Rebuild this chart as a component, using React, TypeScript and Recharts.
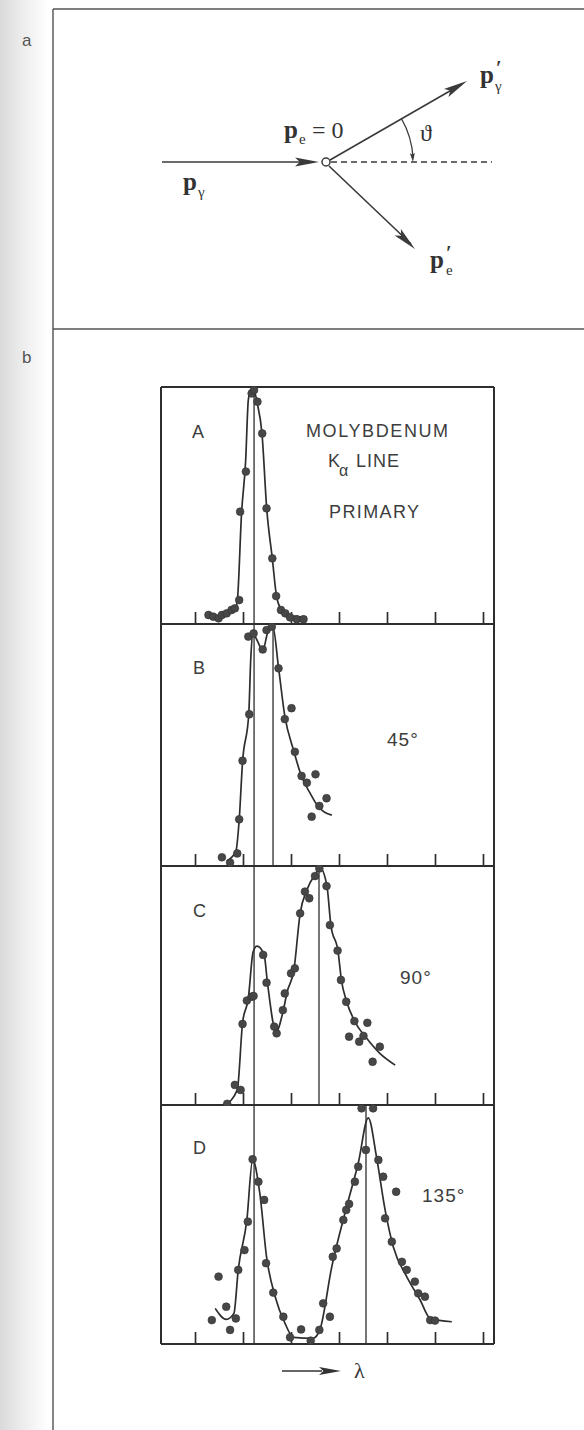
import React from "react";
import { ComposedChart, Line, Scatter, XAxis, YAxis, ReferenceLine } from "recharts";

type Pt = [number, number];

// wavelength axis, arbitrary units (one per tick)
const lambdaTicks = [1, 2, 3, 4, 5, 6, 7];
const lambdaDomain: [number, number] = [0.281, 7.219];
const primaryLambda = 2.22;

// A – primary Mo K-alpha line
const pointsA: Pt[] = [
  [1.27, 3.8], [1.37, 3.1], [1.48, 2.4], [1.55, 3.8], [1.65, 4.5], [1.75, 5.9], [1.82, 6.6],
  [1.91, 10.1], [1.93, 47.4], [2.05, 64.3], [2.17, 97.3], [2.22, 98.7], [2.29, 93.8],
  [2.39, 80.4], [2.48, 48.8], [2.6, 27.7], [2.68, 11.8], [2.78, 5.9], [2.87, 4.5],
  [2.97, 2.8], [3.11, 2.0], [3.25, 2.0],
];
const curveA: Pt[] = [
  [1.82, 5.6], [1.87, 9.4], [1.96, 47], [2.045, 69], [2.1, 94.5], [2.156, 99], [2.219, 98.5],
  [2.288, 93], [2.385, 80.4], [2.483, 48.8], [2.6, 27.7], [2.69, 11.5], [2.795, 5.9],
  [2.97, 3.7], [3.32, 2.8],
];

// B – scattered at 45°
const pointsB: Pt[] = [
  [1.55, 3.6], [1.72, 1.4], [1.87, 5.2], [1.91, 19.3], [1.98, 43.5], [2.12, 62.7], [2.1, 94.8],
  [2.21, 96.1], [2.4, 89.5], [2.48, 97.5], [2.59, 98.9], [2.73, 81.7], [2.86, 60.7], [3.0, 65.2],
  [3.07, 47.2], [3.21, 37.2], [3.32, 34.4], [3.5, 37.9], [3.58, 24.8], [3.42, 20.4], [3.73, 28.0],
];
const curveB: Pt[] = [
  [1.65, 2], [1.84, 6], [1.91, 19], [1.98, 43], [2.11, 63], [2.15, 85], [2.19, 96], [2.29, 93],
  [2.4, 89], [2.51, 97], [2.61, 99], [2.73, 82], [2.86, 62], [3.04, 48], [3.21, 37],
  [3.39, 30], [3.54, 25], [3.84, 21],
];
const shiftB = 2.615;

// C – scattered at 90°
const pointsC: Pt[] = [
  [1.66, 0.5], [1.82, 8.4], [1.94, 6.3], [1.98, 33.9], [2.07, 43.7], [2.17, 45.3], [2.21, 45.6],
  [2.41, 62.8], [2.48, 51.2], [2.64, 32.8], [2.69, 30.0], [2.82, 39.7], [2.86, 46.7], [2.99, 55.1],
  [3.07, 57.2], [3.18, 80.2], [3.28, 89.3], [3.37, 86.5], [3.49, 95.8], [3.58, 99.0], [3.73, 91.6],
  [3.8, 75.3], [3.96, 64.6], [4.03, 52.3], [4.14, 43.2], [4.31, 35.1], [4.58, 34.4], [4.2, 28.6],
  [4.41, 26.5], [4.5, 28.9], [4.84, 24.4], [4.69, 18.1],
];
const curveC: Pt[] = [
  [1.615, 0], [1.87, 6.3], [1.98, 34.3], [2.1, 44.6], [2.2, 64], [2.28, 66.5], [2.43, 62.8],
  [2.5, 51], [2.68, 30.7], [2.83, 39.7], [2.91, 47.4], [3.05, 56.5], [3.18, 80.2], [3.32, 90],
  [3.53, 97.6], [3.59, 99.4], [3.74, 91.4], [3.82, 75.3], [3.97, 64.2], [4.04, 52.3],
  [4.15, 43.2], [4.32, 34.9], [4.57, 27.8], [4.84, 21.6], [5.16, 16.7],
];
const shiftC = 3.573;

// D – scattered at 135°
const pointsD: Pt[] = [
  [1.34, 10.0], [1.48, 28.2], [1.64, 15.6], [1.72, 5.9], [1.84, 10.7], [1.89, 31.0], [2.02, 39.3],
  [2.09, 51.2], [2.19, 77.3], [2.31, 67.9], [2.43, 60.3], [2.47, 33.8], [2.62, 21.5], [2.83, 11.4],
  [2.97, 2.8], [3.2, 6.1], [3.4, 1.4], [3.58, 5.9], [3.66, 17.0], [3.8, 11.4], [3.86, 36.5],
  [3.94, 40.0], [4.08, 51.9], [4.14, 56.1], [4.2, 58.6], [4.32, 67.9], [4.39, 74.2], [4.55, 81.2],
  [4.46, 98.6], [4.7, 98.6], [4.81, 77.0], [4.91, 70.0], [4.95, 52.6], [5.09, 42.8], [5.18, 63.7],
  [5.3, 34.4], [5.4, 31.0], [5.57, 26.1], [5.64, 21.2], [5.78, 19.8], [5.89, 10.0], [5.99, 9.8],
];
const curveD: Pt[] = [
  [1.41, 14.9], [1.64, 10.3], [1.8, 12.8], [1.89, 31], [2.07, 51.9], [2.19, 77], [2.34, 63],
  [2.48, 36.5], [2.66, 19.8], [2.865, 8.6], [3.04, 2.8], [3.45, 2.4], [3.59, 5.9], [3.84, 32.4],
  [4.15, 57.5], [4.39, 75.6], [4.6, 94.6], [4.77, 78.4], [4.95, 56.1], [5.12, 40.7],
  [5.4, 28.2], [5.68, 18.4], [5.89, 10.7], [6.34, 9.3],
];
const shiftD = 4.552;

const toRows = (pts: Pt[]) => pts.map(([x, y]) => ({ x, y }));

const INK = "#2e2e2e";
const FRAME_LEFT = 161;
const FRAME_W = 333;

function Dot(p: any) {
  return <circle cx={p.cx} cy={p.cy} r={3.9} fill="#474747" stroke="#333" strokeWidth={0.6} />;
}

function Panel({
  top,
  height,
  points,
  curve,
  shift,
  first,
}: {
  top: number;
  height: number;
  points: Pt[];
  curve: Pt[];
  shift?: number;
  first?: boolean;
}) {
  return (
    <div style={{ position: "absolute", left: FRAME_LEFT - 1, top: top - 1 }}>
      <ComposedChart
        width={FRAME_W + 2}
        height={height + 2}
        margin={{ top: 1, right: 1, bottom: 1, left: 1 }}
      >
        <XAxis
          type="number"
          dataKey="x"
          domain={lambdaDomain}
          ticks={lambdaTicks}
          mirror
          tickSize={12}
          tickFormatter={() => ""}
          axisLine={{ stroke: INK, strokeWidth: 2 }}
          tickLine={{ stroke: INK, strokeWidth: 1.7 }}
        />
        <YAxis type="number" domain={[0, 100]} hide />
        {/* frame sides */}
        <ReferenceLine x={lambdaDomain[0]} stroke={INK} strokeWidth={2} />
        <ReferenceLine x={lambdaDomain[1]} stroke={INK} strokeWidth={2} />
        {first && <ReferenceLine y={100} stroke={INK} strokeWidth={2} />}
        <ReferenceLine x={primaryLambda} stroke={INK} strokeWidth={1.3} />
        {shift !== undefined && <ReferenceLine x={shift} stroke={INK} strokeWidth={1.3} />}
        <Line
          data={toRows(curve)}
          dataKey="y"
          type="monotone"
          stroke={INK}
          strokeWidth={1.7}
          dot={false}
          isAnimationActive={false}
        />
        <Scatter data={toRows(points)} dataKey="y" shape={Dot} isAnimationActive={false} />
      </ComposedChart>
    </div>
  );
}

function arrowHead(x1: number, y1: number, x2: number, y2: number, len = 24, half = 4.5) {
  const d = Math.hypot(x2 - x1, y2 - y1);
  const ux = (x2 - x1) / d;
  const uy = (y2 - y1) / d;
  const bx = x2 - ux * len;
  const by = y2 - uy * len;
  const nx = bx + ux * len * 0.2;
  const ny = by + uy * len * 0.2;
  return `${x2},${y2} ${bx - uy * half},${by + ux * half} ${nx},${ny} ${bx + uy * half},${by - ux * half}`;
}

function Overlay() {
  const cx = 326;
  const cy = 162;
  const serif = "'Liberation Serif', 'DejaVu Serif', serif";
  const sans = "'Liberation Sans', Arial, sans-serif";
  const arcR = 87;
  const a0 = (-30 * Math.PI) / 180;
  const arcStart = [cx + arcR * Math.cos(a0), cy + arcR * Math.sin(a0)];
  return (
    <svg
      width={584}
      height={1430}
      style={{ position: "absolute", left: 0, top: 0, pointerEvents: "none" }}
    >
      {/* page frame lines */}
      <line x1={53} y1={9} x2={584} y2={9} stroke="#555" strokeWidth={1.6} />
      <line x1={53} y1={9} x2={53} y2={1430} stroke="#666" strokeWidth={1.6} />
      <line x1={53} y1={329} x2={584} y2={329} stroke="#555" strokeWidth={1.6} />
      <text x={22} y={46} fontFamily={sans} fontSize={17} fill="#555">a</text>
      <text x={22} y={363} fontFamily={sans} fontSize={17} fill="#555">b</text>

      {/* scattering diagram */}
      <g stroke="#3a3a3a" strokeWidth={1.6} fill="#3a3a3a">
        <line x1={162} y1={cy} x2={312} y2={cy} />
        <polygon points={arrowHead(162, cy, 319, cy)} stroke="none" />
        <line x1={331} y1={cy} x2={492} y2={cy} strokeDasharray="6 4" fill="none" />
        <line x1={330} y1={160} x2={462} y2={84} />
        <polygon points={arrowHead(330, 160, 467, 81)} stroke="none" />
        <line x1={329} y1={166} x2={411} y2={244} />
        <polygon points={arrowHead(329, 166, 415, 249)} stroke="none" />
        <path
          d={`M ${arcStart[0]} ${arcStart[1]} A ${arcR} ${arcR} 0 0 1 ${cx + arcR} ${cy - 4}`}
          fill="none"
          strokeWidth={1.3}
        />
        <polygon points={arrowHead(cx + arcR - 1, cy - 14, cx + arcR, cy, 9, 2.5)} stroke="none" />
        <circle cx={cx} cy={cy} r={4} fill="#fff" strokeWidth={1.5} />
      </g>
      <g fontFamily={serif} fill="#333" fontSize={25}>
        <text x={183} y={190} fontWeight="bold">p</text>
        <text x={198} y={197} fontSize={15}>γ</text>
        <text x={284} y={138} fontWeight="bold">p</text>
        <text x={299} y={144} fontSize={15}>e</text>
        <text x={312} y={138} fontSize={24}>= 0</text>
        <text x={420} y={141} fontSize={24}>ϑ</text>
        <text x={480} y={83} fontWeight="bold">p</text>
        <text x={496} y={75} fontSize={20} fontWeight="bold">′</text>
        <text x={495} y={91} fontSize={15}>γ</text>
        <text x={430} y={268} fontWeight="bold">p</text>
        <text x={446} y={260} fontSize={20} fontWeight="bold">′</text>
        <text x={446} y={275} fontSize={15}>e</text>
      </g>

      {/* panel annotations */}
      <g fontFamily={sans} fill="#3d3d3d" fontSize={18}>
        <text x={192} y={438}>A</text>
        <text x={193} y={674}>B</text>
        <text x={193} y={917}>C</text>
        <text x={193} y={1154}>D</text>
        <text x={306} y={437} letterSpacing={1.6}>MOLYBDENUM</text>
        <text x={328} y={467}>K</text>
        <text x={339} y={476} fontSize={16}>α</text>
        <text x={356} y={467} letterSpacing={1}>LINE</text>
        <text x={329} y={518} letterSpacing={1.4}>PRIMARY</text>
        <text x={387} y={746} fontSize={19} letterSpacing={1}>45°</text>
        <text x={400} y={984} fontSize={19} letterSpacing={1}>90°</text>
        <text x={422} y={1202} fontSize={19} letterSpacing={1}>135°</text>
      </g>

      {/* wavelength arrow */}
      <g stroke="#333" fill="#333">
        <line x1={282} y1={1371} x2={322} y2={1371} strokeWidth={1.6} />
        <polygon points={arrowHead(282, 1371, 341, 1371, 22, 4)} stroke="none" />
      </g>
      <text x={354} y={1378} fontFamily={serif} fontSize={22} fill="#333">λ</text>
    </svg>
  );
}

export default function App() {
  return (
    <div
      style={{
        position: "absolute",
        left: 0,
        top: 0,
        width: 584,
        height: 1430,
        overflow: "hidden",
        background: "#fff",
      }}
    >
      <div
        style={{
          position: "absolute",
          left: 0,
          top: 0,
          width: 48,
          height: 1430,
          background: "linear-gradient(to right, #dadada, #ececec 45%, #fff)",
        }}
      />
      <Panel top={387} height={237} points={pointsA} curve={curveA} first />
      <Panel top={624} height={242} points={pointsB} curve={curveB} shift={shiftB} />
      <Panel top={866} height={239} points={pointsC} curve={curveC} shift={shiftC} />
      <Panel top={1105} height={239} points={pointsD} curve={curveD} shift={shiftD} />
      <Overlay />
    </div>
  );
}
